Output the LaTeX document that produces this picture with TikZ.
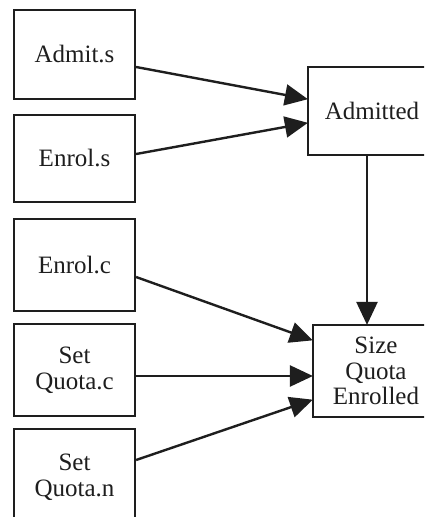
\documentclass[tikz,border=0pt]{standalone}
\usepackage{fontspec}
\setmainfont{Liberation Serif}
\usetikzlibrary{arrows.meta}
\definecolor{ink}{HTML}{1E1E1E}
\begin{document}
\begin{tikzpicture}[x=1pt,y=-1pt,
  box/.style={draw=ink, line width=2.2pt, fill=white, rectangle, inner sep=0pt,
    align=center, font=\fontsize{25}{25.5}\selectfont, text=ink},
  arr/.style={draw=ink, line width=2.4pt,
    -{Triangle[length=23pt,width=21pt]}, shorten >=-1pt}
]
\clip (0,0) rectangle (424,517);
\fill[white] (0,0) rectangle (424,517);

% source boxes on the left
\node[box, minimum width=121pt, minimum height=89pt] (admits) at (74.5,54.5) {Admit.s};
\node[box, minimum width=121pt, minimum height=87pt] (enrols) at (74.5,158.5) {Enrol.s};
\node[box, minimum width=121pt, minimum height=92pt] (enrolc) at (74.5,265) {Enrol.c};
\node[box, minimum width=121pt, minimum height=92pt] (quotac) at (74.5,370) {Set\\Quota.c};
\node[box, minimum width=121pt, minimum height=96pt] (quotan) at (74.5,477) {Set\\Quota.n};

% targets on the right
\node[box, minimum width=128pt, minimum height=88pt] (admitted) at (372,111) {Admitted};
\node[box, minimum width=126pt, minimum height=92pt] (size) at (376,371) {Size\\Quota\\Enrolled};

% connectors
\draw[arr] ([yshift=-12.5pt]admits.east) -- ([yshift=12pt]admitted.west);
\draw[arr] ([yshift=4.5pt]enrols.east) -- ([yshift=-12pt]admitted.west);
\draw[arr] ([xshift=-5pt]admitted.south) -- ([xshift=-5pt]admitted.south |- size.north);
\draw[arr] ([yshift=-12pt]enrolc.east) -- ([yshift=31pt]size.west);
\draw[arr] ([yshift=-6pt]quotac.east) -- ([yshift=-5pt]size.west);
\draw[arr] ([yshift=17pt]quotan.east) -- ([yshift=-29pt]size.west);
\end{tikzpicture}
\end{document}
